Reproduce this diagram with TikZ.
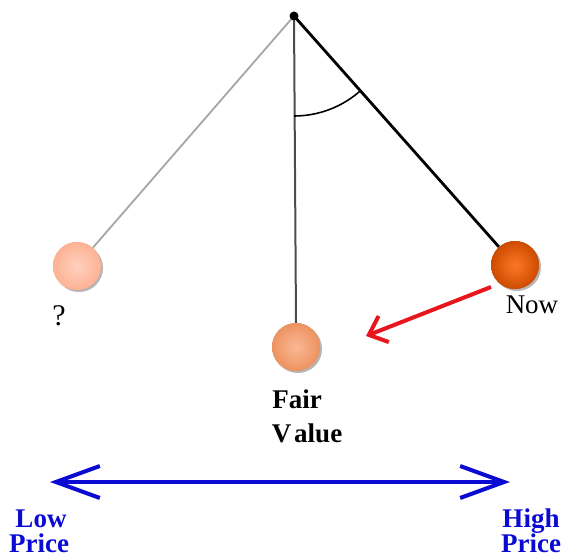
\documentclass[tikz,border=0pt]{standalone}
\usepackage{fontspec}
\setmainfont{Liberation Serif}
\usetikzlibrary{arrows.meta,shadows}
\definecolor{ballA}{HTML}{FDB293}
\definecolor{ballB}{HTML}{F99A66}
\definecolor{ballC}{HTML}{FF5F00}
\definecolor{priceblue}{HTML}{0A0AD2}
\definecolor{arrowred}{HTML}{E8141E}
\tikzset{
  bob/.style={circle, minimum size=48pt, inner sep=0pt, drop shadow={shadow xshift=2pt,shadow yshift=-2pt,opacity=0.35}},
  lbl/.style={font=\fontsize{27}{34}\selectfont\bfseries, anchor=base, inner sep=0pt},
  bluelbl/.style={font=\fontsize{27}{30}\selectfont\bfseries, text=priceblue, anchor=base, inner sep=0pt},
}
\begin{document}
\begin{tikzpicture}[x=1pt,y=-1pt]
\useasboundingbox (0,0) rectangle (576,559);
\coordinate (pivot) at (294,16);
% bobs
\node[bob, shade, inner color=ballA!60!white, outer color=ballA] (bl) at (77,266) {};
\node[bob, shade, inner color=ballB!70!white, outer color=ballB!95!black] (bm) at (296,347) {};
\node[bob, shade, inner color=ballC!85!white, outer color=ballC!80!black] (br) at (515,265) {};
% strings
\draw[gray!70, line width=1.8pt] (pivot) -- (bl);
\draw[black!70, line width=2pt] (pivot) -- (bm.north);
\draw[black, line width=2.8pt] (pivot) -- (br);
\fill (pivot) circle (4.5pt);
% redraw bobs on top
\node[bob, shade, inner color=ballA!60!white, outer color=ballA] at (bl) {};
\node[bob, shade, inner color=ballB!70!white, outer color=ballB!95!black] at (bm) {};
\node[bob, shade, inner color=ballC!85!white, outer color=ballC!80!black] at (br) {};
% angle arc
\draw[black, line width=1.6pt] (pivot) ++(90:100) arc[start angle=90, end angle=48.4, radius=100];
% labels
\node[font=\fontsize{30}{32}\selectfont, anchor=base, inner sep=0pt] (q) at (59,325) {?};
\node[font=\fontsize{27}{30}\selectfont, anchor=base, inner sep=0pt] (now) at (532,313) {Now};
\node[lbl] (fair) at (297,408) {Fair};
\node[lbl] (value) at (307,442) {V\kern3pt alue};
% red arrow
\coordinate (ra) at (491,287);
\coordinate (rb) at (366,336);
\draw[arrowred, line width=4pt, -{Straight Barb[length=16pt,width=28pt,line width=4pt]}] (ra) -- (rb);
% blue arrow
\coordinate (bla) at (50,482);
\coordinate (blb) at (510,482);
\draw[priceblue, line width=4pt, {Straight Barb[length=44pt,width=32pt,line width=4pt]}-{Straight Barb[length=44pt,width=32pt,line width=4pt]}] (bla) -- (blb);
\node[bluelbl] (low1) at (41,527) {Low};
\node[bluelbl] (low2) at (39,552) {Price};
\node[bluelbl] (high1) at (531,527) {High};
\node[bluelbl] (high2) at (531,552) {Price};
\end{tikzpicture}
\end{document}
